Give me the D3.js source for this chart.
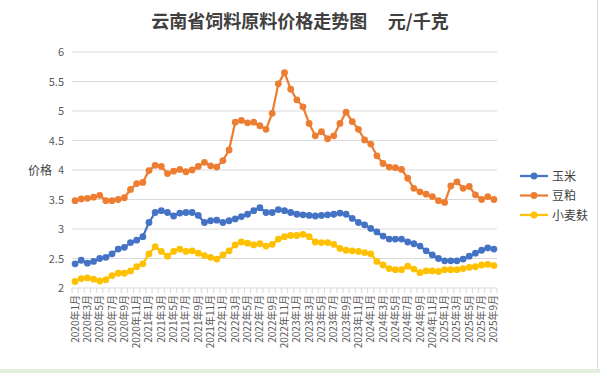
<!DOCTYPE html>
<html>
<head>
<meta charset="utf-8">
<script src="https://cdn.jsdelivr.net/npm/d3@7"></script>
<style>
  body { margin: 0; background: #fff; }
  svg { display: block; }
</style>
</head>
<body>
<svg id="chart" width="600" height="373"></svg>
<script>
// month labels 2020年1月 .. 2025年9月
var months = [];
for (var y = 2020; y <= 2025; y++) {
  for (var m = 1; m <= 12; m++) {
    if (y === 2025 && m > 9) break;
    months.push(y + "年" + m + "月");
  }
}

// prices (元/千克)
var corn = [2.41,2.47,2.42,2.45,2.50,2.52,2.58,2.66,2.69,2.77,2.81,2.87,
            3.11,3.28,3.31,3.28,3.22,3.27,3.28,3.28,3.23,3.11,3.14,3.15,
            3.11,3.14,3.17,3.21,3.25,3.31,3.36,3.28,3.28,3.33,3.31,3.28,
            3.25,3.24,3.23,3.22,3.23,3.24,3.25,3.27,3.25,3.18,3.11,3.07,
            3.01,2.95,2.88,2.83,2.83,2.83,2.78,2.75,2.71,2.63,2.56,2.50,
            2.46,2.46,2.46,2.49,2.54,2.59,2.64,2.68,2.66];
var soymeal = [3.48,3.51,3.52,3.54,3.57,3.48,3.48,3.50,3.53,3.67,3.77,3.79,
               3.99,4.08,4.06,3.94,3.98,4.01,3.97,4.00,4.06,4.13,4.07,4.05,
               4.16,4.34,4.81,4.84,4.80,4.81,4.75,4.69,4.96,5.46,5.65,5.37,
               5.19,5.07,4.79,4.58,4.65,4.53,4.58,4.79,4.98,4.82,4.69,4.51,
               4.44,4.24,4.11,4.05,4.04,4.01,3.86,3.69,3.63,3.59,3.55,3.48,
               3.45,3.73,3.80,3.69,3.72,3.58,3.50,3.55,3.50];
var bran = [2.11,2.16,2.17,2.15,2.12,2.14,2.21,2.25,2.25,2.29,2.36,2.41,
            2.58,2.70,2.62,2.54,2.62,2.66,2.62,2.63,2.59,2.55,2.52,2.49,
            2.56,2.63,2.73,2.78,2.76,2.73,2.75,2.71,2.74,2.83,2.87,2.89,
            2.89,2.91,2.87,2.78,2.77,2.77,2.74,2.67,2.64,2.63,2.62,2.60,
            2.58,2.45,2.39,2.33,2.31,2.31,2.37,2.32,2.26,2.29,2.29,2.28,
            2.31,2.31,2.31,2.33,2.35,2.36,2.39,2.40,2.38];

var seriesNames = ["玉米", "豆粕", "小麦麸"];
var seriesColors = ["#4472C4", "#ED7D31", "#FFC000"];
var yTicks = [2, 2.5, 3, 3.5, 4, 4.5, 5, 5.5, 6];

var series = [corn, soymeal, bran].map(function(vals, k){
  return { name: seriesNames[k], color: seriesColors[k], values: vals };
});

var svg = d3.select("#chart");
var font = "'Noto Sans CJK SC', 'Noto Sans', sans-serif";

var margin = {top: 52, right: 103, bottom: 85, left: 72};
var width = 600 - margin.left - margin.right,
    height = 373 - margin.top - margin.bottom;

// backdrop: spreadsheet edge
svg.append("rect").attr("x", 0).attr("y", 369).attr("width", 600).attr("height", 4).attr("fill", "#e3efdc");
svg.append("line").attr("x1", 597.5).attr("x2", 597.5).attr("y1", 0).attr("y2", 369)
  .attr("stroke", "#d9d9d9");

var g = svg.append("g").attr("transform", "translate(" + margin.left + "," + margin.top + ")");

var x = d3.scaleBand().domain(months).range([0, width]);
var y = d3.scaleLinear().domain([2, 6]).range([height, 0]);
var cx = function(d){ return x(d) + x.bandwidth() / 2; };

// gridlines
g.append("g").selectAll("line").data(yTicks.slice(1)).enter().append("line")
  .attr("x1", 0).attr("x2", width)
  .attr("y1", function(d){ return y(d); }).attr("y2", function(d){ return y(d); })
  .attr("stroke", "#d9d9d9").attr("stroke-width", 1);

// y axis labels
var yAxis = d3.axisLeft(y).tickValues(yTicks).tickSize(0).tickPadding(8)
  .tickFormat(function(d){ return d; });
var yG = g.append("g").call(yAxis);
yG.select(".domain").remove();
yG.selectAll("text").attr("fill", "#595959").style("font-family", font).style("font-size", "11px");

// x axis: ticks on band edges, label every other month
var xG = g.append("g").attr("transform", "translate(0," + height + ")");
xG.append("line").attr("x1", 0).attr("x2", width).attr("stroke", "#d9d9d9");
var edges = months.map(function(d){ return x(d); }).concat([width]);
xG.selectAll(".tk").data(edges).enter().append("line")
  .attr("x1", function(d){ return d; }).attr("x2", function(d){ return d; })
  .attr("y1", 0).attr("y2", 5).attr("stroke", "#d9d9d9");
xG.selectAll("text").data(months.filter(function(d, i){ return i % 2 === 0; }))
  .enter().append("text")
  .attr("transform", function(d){ return "translate(" + (cx(d) + 3.5) + ",7) rotate(-90)"; })
  .attr("text-anchor", "end")
  .attr("fill", "#595959")
  .style("font-family", font).style("font-size", "10px")
  .text(function(d){ return d; });

// lines and markers
var line = d3.line()
  .x(function(d, i){ return cx(months[i]); })
  .y(function(d){ return y(d); });

series.forEach(function(s){
  g.append("path").datum(s.values)
    .attr("d", line).attr("fill", "none")
    .attr("stroke", s.color).attr("stroke-width", 2.25).attr("stroke-linejoin", "round");
  g.append("g").selectAll("circle").data(s.values).enter().append("circle")
    .attr("cx", function(d, i){ return cx(months[i]); })
    .attr("cy", function(d){ return y(d); })
    .attr("r", 3.4).attr("fill", s.color);
});

// title
svg.append("text").attr("x", 300).attr("y", 28).attr("text-anchor", "middle")
  .attr("fill", "#404040").style("font-family", font).style("font-size", "18px").style("font-weight", "bold")
  .text("云南省饲料原料价格走势图\u00a0\u00a0\u00a0\u00a0\u00a0元/千克");

// y label
svg.append("text").attr("x", 40).attr("y", 175).attr("text-anchor", "middle")
  .attr("fill", "#404040").style("font-family", font).style("font-size", "12px")
  .text("价格");

// legend
var leg = svg.append("g").attr("transform", "translate(520,176)");
series.forEach(function(s, k){
  var row = leg.append("g").attr("transform", "translate(0," + (k * 19.5) + ")");
  row.append("line").attr("x1", 0).attr("x2", 28).attr("stroke", s.color).attr("stroke-width", 2.25);
  row.append("circle").attr("cx", 14).attr("r", 3.4).attr("fill", s.color);
  row.append("text").attr("x", 32).attr("y", 4.5).attr("fill", "#404040")
    .style("font-family", font).style("font-size", "12px").text(s.name);
});
</script>
</body>
</html>
